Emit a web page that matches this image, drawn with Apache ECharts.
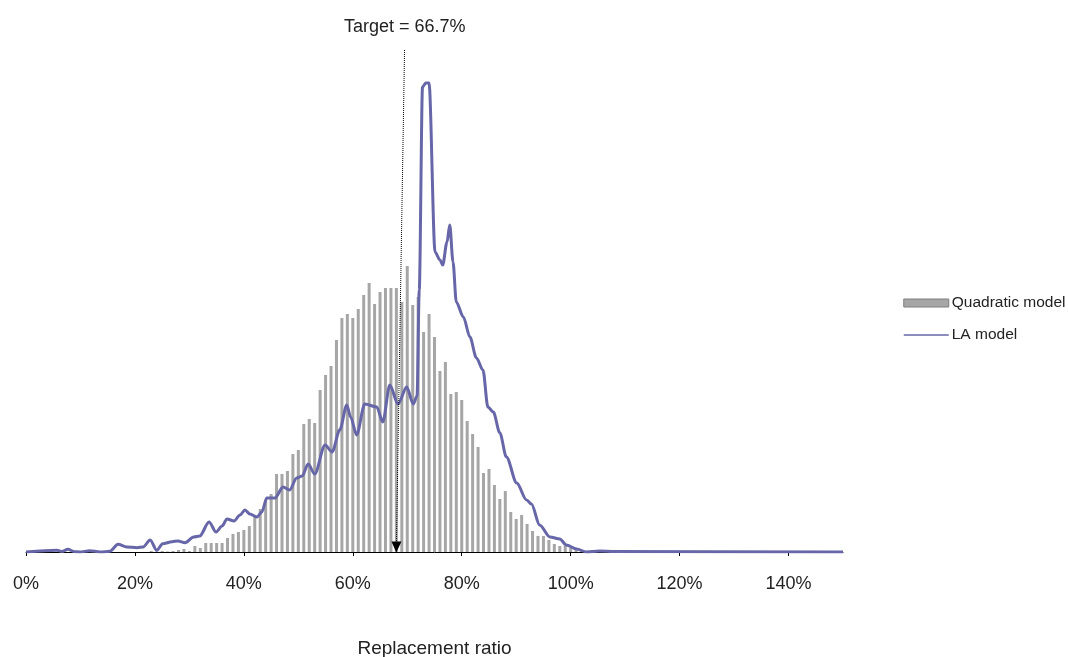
<!DOCTYPE html>
<html>
<head>
  <meta charset="utf-8">
  <script src="https://cdn.jsdelivr.net/npm/echarts@6/dist/echarts.min.js"></script>
  <style>
    html, body { margin: 0; padding: 0; background: #fff; }
    #main { width: 1068px; height: 657px; }
  </style>
  <script type="text/javascript">
    // histogram bins (replacement ratio, %) and bar heights, quadratic model
    const binPct = [];
    for (let p = 23; p <= 102; p++) binPct.push(p);
    const quadratic = [1, 0.5, 1, 0.5, 1, 2, 3, 1, 6, 4,
      9, 9, 9, 9, 14, 18, 20, 22, 26, 37,
      43, 52, 58, 78, 78, 81, 98, 102, 128, 133,
      129, 162, 177, 186, 212, 234, 238, 234, 243, 257,
      269, 248, 260, 264, 264, 264, 250, 286, 247, 255,
      220, 238, 215, 181, 190, 158, 160, 152, 131, 118,
      105, 79, 83, 67, 53, 61, 40, 33, 37, 28,
      21, 16, 16, 12, 8, 6, 6, 4, 2, 1];

    // LA model density curve
    const laPct = [0, 5.7, 6.6, 7.7, 8.9, 9.9, 11.7, 13.6, 15.4, 16.9,
      18.5, 20.4, 21.5, 22.8, 24, 25.1, 26.8, 27.9, 29.2, 30.8,
      31.9, 33.6, 34.9, 36, 36.9, 38.2, 39.3, 40.2, 41.1, 42.4,
      43.3, 44.2, 45.7, 47.2, 48.4, 49.7, 50.7, 51.8, 53, 54.9,
      56.2, 57.6, 58.9, 59.6, 60.7, 62.2, 64.4, 65.5, 66.8, 68.3,
      69.9, 71.1, 71.8, 72.2, 72.8, 73.4, 74.0, 75.1, 76.0, 76.5,
      77.3, 77.8, 78.4, 79, 80.3, 81.5, 82.7, 83.9, 84.8, 85.8,
      87, 88.2, 90.1, 91.9, 92.8, 94.3, 96.2, 98, 99.2, 101.1,
      102.9, 105.3, 108, 150];
    const laValue = [0, 1.7, 0.5, 2.7, 0.3, 0, 1.3, 0, 0.7, 7.7,
      5, 4.3, 5, 12, 1.7, 8.3, 10.3, 11, 9.3, 15,
      16, 30, 20, 26, 33, 31, 37, 42, 38, 35,
      40, 54, 54, 65, 62, 74, 76, 88, 78, 107,
      100, 122, 147, 135, 117, 148, 145, 130, 167, 148,
      165, 148, 156, 262, 465, 469, 469, 300, 292, 287,
      310, 327, 290, 250, 235, 215, 194, 182, 145, 140,
      119, 95, 69, 52, 48, 27, 15, 13, 7, 3,
      0, 1, 0.5, 0];

    const targetLabel = 'Target = 66.7%';
    const targetTop = [69.5, 502];
    const targetBottom = [68, 5];

    const xTicks = [0, 20, 40, 60, 80, 100, 120, 140];

    const FONT = "'Liberation Sans', Arial, sans-serif";

    function init() {
      const chart = echarts.init(document.getElementById('main'), null, { renderer: 'canvas' });
      const option = {
        animation: false,
        backgroundColor: '#fff',
        textStyle: { fontFamily: FONT },
        grid: { left: 26, right: 225, top: 50, bottom: 105, containLabel: false, outerBoundsMode: 'none' },
        legend: {
          orient: 'vertical',
          left: 903,
          top: 295,
          padding: 0,
          itemWidth: 45,
          itemHeight: 8,
          itemGap: 16,
          textStyle: { fontSize: 15.5, color: '#222', fontFamily: FONT, padding: [0, 0, 0, -2] },
          data: [
            { name: 'Quadratic model', icon: 'rect', itemStyle: { borderColor: '#7f7f7f', borderWidth: 1 } },
            { name: 'LA model', itemStyle: { opacity: 0 }, lineStyle: { width: 1.5 } }
          ]
        },
        xAxis: {
          type: 'value',
          min: 0,
          max: 150,
          interval: 20,
          name: 'Replacement ratio',
          nameLocation: 'middle',
          nameGap: 87,
          nameTextStyle: { fontSize: 19, color: '#222', fontFamily: FONT },
          axisLine: { lineStyle: { color: '#000', width: 1 } },
          axisTick: { length: 4, lineStyle: { color: '#000' } },
          splitLine: { show: false },
          axisLabel: {
            fontSize: 18,
            color: '#222',
            margin: 23,
            showMaxLabel: false,
            formatter: function (v) { return xTicks.indexOf(v) >= 0 ? v + '%' : ''; }
          }
        },
        yAxis: { type: 'value', min: 0, max: 502, show: false },
        series: [
          {
            name: 'Quadratic model',
            type: 'bar',
            barWidth: 3,
            itemStyle: { color: '#a6a6a6' },
            data: binPct.map((p, i) => [p, quadratic[i]]),
            markLine: {
              silent: true,
              symbol: ['none', 'triangle'],
              symbolSize: [10, 11],
              lineStyle: { type: 'dotted', color: '#000', width: 1 },
              label: {
                show: true,
                position: 'start',
                distance: 14,
                formatter: targetLabel,
                fontSize: 18,
                color: '#222',
                fontFamily: FONT
              },
              data: [[{ coord: targetTop }, { coord: targetBottom }]]
            }
          },
          {
            name: 'LA model',
            type: 'line',
            symbol: 'none',
            smooth: 0.3,
            smoothMonotone: 'x',
            lineStyle: { color: '#6666a8', width: 3 },
            itemStyle: { color: '#6666a8' },
            z: 3,
            data: laPct.map((p, i) => [p, laValue[i]])
          }
        ]
      };
      chart.setOption(option);
    }
  </script>
</head>
<body onload="init()">
  <div id="main"></div>
</body>
</html>
